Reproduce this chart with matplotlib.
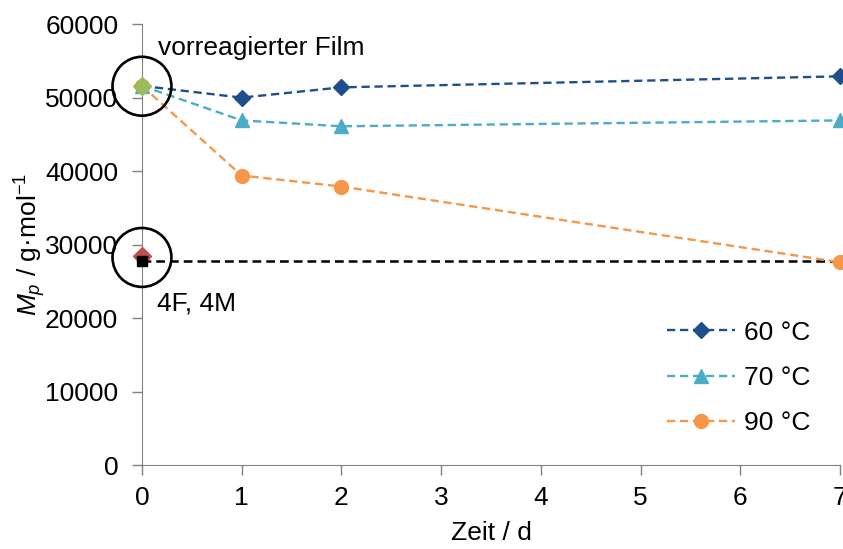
import matplotlib
matplotlib.use("Agg")
import matplotlib.pyplot as plt

plt.rcParams["font.family"] = ["Liberation Sans", "DejaVu Sans"]
plt.rcParams["mathtext.fontset"] = "custom"
plt.rcParams["mathtext.rm"] = "Liberation Sans"
plt.rcParams["mathtext.it"] = "Liberation Sans:italic"

days = [0, 1, 2, 7]
mp_60 = [51600, 50000, 51400, 52900]
mp_70 = [51600, 46900, 46100, 46900]
mp_90 = [51600, 39400, 37900, 27600]
series = [("60 °C", mp_60, "#1F4E8C", "D", 8),
          ("70 °C", mp_70, "#4BACC6", "^", 10),
          ("90 °C", mp_90, "#F79646", "o", 10)]

film_x, film_y = 0, 51600              # vorreagierter Film
ref_x, ref_y = [0, 7], [27700, 27700]  # 4F, 4M reference level
red_y = 28500
circle_y = [51550, 28250]

AXIS_GRAY = "#808080"
FS = 19

fig = plt.figure(figsize=(8.43, 5.49), dpi=100)
ax = fig.add_axes([0.1684, 0.153, 0.828, 0.803])

ax.plot(ref_x, ref_y, color="black", ls=(0, (3.5, 2)), lw=1.8, zorder=2)
for label, vals, color, marker, ms in series:
    ax.plot(days, vals, color=color, ls=(0, (3.5, 2)), lw=1.7, marker=marker,
            ms=ms, label=label, zorder=3, clip_on=False)

ax.plot([ref_x[0]], [ref_y[0]], marker="s", color="black", ms=7, ls="none",
        zorder=4, clip_on=False)
ax.plot([0], [red_y], marker="D", color="#C0504D", ms=9, ls="none", zorder=3.5,
        clip_on=False)
ax.plot([film_x], [film_y], marker="D", color="#9BBB59", ms=9.5, ls="none",
        zorder=5, clip_on=False)

# circles around the start points
ax.scatter([0, 0], circle_y, s=1800, facecolors="none",
           edgecolors="black", linewidths=1.9, zorder=6, clip_on=False)

ax.text(0.16, 56800, "vorreagierter Film", fontsize=FS, va="center", ha="left")
ax.text(0.15, 22000, "4F, 4M", fontsize=FS, va="center", ha="left")

ax.set_xlim(0, 7)
ax.set_ylim(0, 60000)
ax.set_xticks(range(8))
ax.set_yticks(range(0, 60001, 10000))
ax.tick_params(axis="y", labelsize=FS, labelcolor="black", color=AXIS_GRAY,
               length=7, width=1, pad=10)
ax.tick_params(axis="x", labelsize=FS, labelcolor="black", color=AXIS_GRAY,
               length=7, width=1, pad=8)
for s in ["top", "right"]:
    ax.spines[s].set_visible(False)
for s in ["left", "bottom"]:
    ax.spines[s].set_color(AXIS_GRAY)
ax.set_xlabel("Zeit / d", fontsize=FS, labelpad=8)
ax.set_ylabel(r"$\mathit{M}_\mathit{p}$ / g·mol$^{\mathregular{−1}}$", fontsize=FS,
              labelpad=-2)

ax.legend(loc="center left", bbox_to_anchor=(0.7626, 0.3115),
          bbox_transform=fig.transFigure, frameon=False, fontsize=FS,
          handlelength=2.6, labelspacing=0.81, handletextpad=0.35)

fig.savefig("out.png", dpi=100)
